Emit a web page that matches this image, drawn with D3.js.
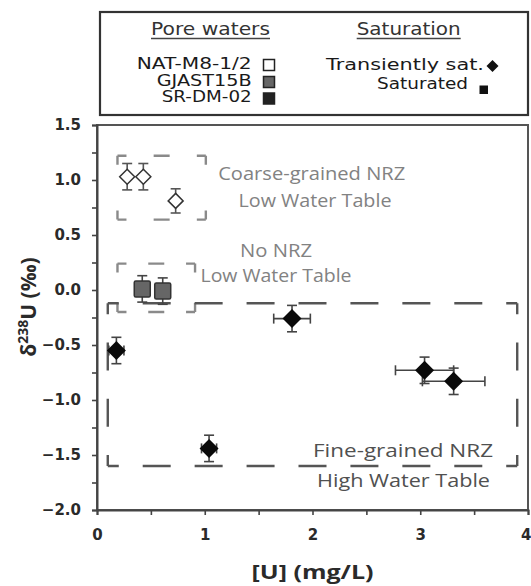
<!DOCTYPE html>
<html>
<head>
<meta charset="utf-8">
<script src="https://cdn.jsdelivr.net/npm/d3@7"></script>
<style>
  body { margin: 0; background: #fff; }
  svg { display: block; }
</style>
</head>
<body>
<div id="chart"></div>
<script>
// pore water samples, [U] in mg/L and d238U in permil
var natX = [0.28, 0.43, 0.73];
var natY = [1.03, 1.03, 0.81];
var natYErr = [0.12, 0.12, 0.11];

var gjastX = [0.42, 0.61];
var gjastY = [0.01, -0.01];
var gjastYErr = [0.12, 0.12];

var srdmX = [0.18, 1.04, 1.81, 3.04, 3.31];
var srdmY = [-0.55, -1.44, -0.26, -0.73, -0.83];
var srdmXErr = [0.07, 0.07, 0.17, 0.27, 0.29];
var srdmYErr = [0.12, 0.12, 0.12, 0.12, 0.12];

// dashed zones [x0, x1, y0, y1]
var zoneCoarse = [0.19, 1.01, 0.64, 1.22];
var zoneNone = [0.19, 0.91, -0.2, 0.24];
var zoneFine = [0.10, 3.90, -1.60, -0.12];

var xTicks = [0, 1, 2, 3, 4];
var yTicks = [-2.0, -1.5, -1.0, -0.5, 0.0, 0.5, 1.0, 1.5];
var poreLabels = ["NAT-M8-1/2", "GJAST15B", "SR-DM-02"];
var satLabels = ["Transiently sat.", "Saturated"];

var width = 531, height = 586;
var margin = {top: 125, right: 3, bottom: 76, left: 97};

var svg = d3.select("#chart").append("svg")
    .attr("width", width)
    .attr("height", height);

var x = d3.scaleLinear().domain([0, 4]).range([margin.left, width - margin.right]);
var y = d3.scaleLinear().domain([-2, 1.5]).range([height - margin.bottom, margin.top]);

var axisColor = "#444";

// ---- legend ----
var lg = svg.append("g").attr("class", "legend");
lg.append("rect")
    .attr("x", 100).attr("y", 12)
    .attr("width", 428).attr("height", 103)
    .attr("fill", "none").attr("stroke", "#333").attr("stroke-width", 2.2);

function heading(txt, cx, len) {
    lg.append("text")
        .attr("x", cx).attr("y", 35)
        .attr("text-anchor", "middle")
        .attr("font-family", "DejaVu Sans")
        .attr("font-size", 17)
        .attr("fill", "#333")
        .attr("textLength", len).attr("lengthAdjust", "spacingAndGlyphs")
        .text(txt);
    lg.append("line")
        .attr("x1", cx - len / 2).attr("x2", cx + len / 2)
        .attr("y1", 38.5).attr("y2", 38.5)
        .attr("stroke", "#444").attr("stroke-width", 1.3);
}
heading("Pore waters", 210.5, 119);
heading("Saturation", 408.7, 104);

var poreFill = ["#fff", "#666", "#222"];
var poreBase = [68.5, 85.5, 102];
var poreLen = [115, 95, 90];
poreLabels.forEach(function (t, i) {
    lg.append("text")
        .attr("x", 251.7).attr("y", poreBase[i])
        .attr("text-anchor", "end")
        .attr("font-family", "DejaVu Sans")
        .attr("font-size", 15.5)
        .attr("fill", "#1a1a1a")
        .attr("textLength", poreLen[i]).attr("lengthAdjust", "spacingAndGlyphs")
        .text(t);
    lg.append("rect")
        .attr("x", 263.5).attr("y", poreBase[i] - 9)
        .attr("width", 11).attr("height", 11)
        .attr("fill", poreFill[i])
        .attr("stroke", "#222").attr("stroke-width", 1.5);
});

var satBase = [70, 88.5];
var satRight = [484, 468];
var satLen = [158, 91];
satLabels.forEach(function (t, i) {
    lg.append("text")
        .attr("x", satRight[i]).attr("y", satBase[i])
        .attr("text-anchor", "end")
        .attr("font-family", "DejaVu Sans")
        .attr("font-size", 15.5)
        .attr("fill", "#1a1a1a")
        .attr("textLength", satLen[i]).attr("lengthAdjust", "spacingAndGlyphs")
        .text(t);
});
lg.append("path")
    .attr("transform", "translate(492.5,66)")
    .attr("d", "M0,-6L6,0L0,6L-6,0Z")
    .attr("fill", "#111");
lg.append("rect")
    .attr("x", 479.5).attr("y", 85.5)
    .attr("width", 8.5).attr("height", 8.5)
    .attr("fill", "#111");

// ---- frame + axes ----
svg.append("rect")
    .attr("x", x(0)).attr("y", y(1.5))
    .attr("width", x(4) - x(0)).attr("height", y(-2) - y(1.5))
    .attr("fill", "none").attr("stroke", "#555").attr("stroke-width", 2);

var yAxis = d3.axisLeft(y)
    .tickValues(d3.range(-2, 1.51, 0.25))
    .tickSize(5)
    .tickPadding(11)
    .tickFormat(function (d) {
        return yTicks.indexOf(d) > -1 ? d3.format(".1f")(d) : "";
    });

var xAxis = d3.axisBottom(x)
    .tickValues(d3.range(0, 4.01, 0.5))
    .tickSize(5)
    .tickPadding(14)
    .tickFormat(function (d) {
        return xTicks.indexOf(d) > -1 ? d : "";
    });

function styleAxis(g) {
    g.select(".domain").attr("stroke", axisColor).attr("stroke-width", 2);
    g.selectAll(".tick line").attr("stroke", axisColor).attr("stroke-width", 1.6);
    g.selectAll(".tick text")
        .attr("font-family", "DejaVu Sans")
        .attr("font-weight", "bold")
        .attr("font-size", 15)
        .attr("fill", "#2a2a2a");
}

svg.append("g")
    .attr("transform", "translate(" + x(0) + ",0)")
    .call(yAxis)
    .call(styleAxis);

var gx = svg.append("g")
    .attr("transform", "translate(0," + y(-2) + ")")
    .call(xAxis)
    .call(styleAxis);
// last label sits on the window edge, keep it inside
gx.selectAll(".tick text")
    .filter(function (d) { return d === 4; })
    .attr("text-anchor", "end")
    .attr("dx", 3);

svg.append("text")
    .attr("x", 312.5).attr("y", 579)
    .attr("text-anchor", "middle")
    .attr("font-family", "Open Sans")
    .attr("font-weight", "bold")
    .attr("font-size", 20)
    .attr("fill", "#2a2a2a")
    .attr("textLength", 122).attr("lengthAdjust", "spacingAndGlyphs")
    .text("[U] (mg/L)");

var yt = svg.append("text")
    .attr("transform", "translate(36,307) rotate(-90)")
    .attr("text-anchor", "middle")
    .attr("font-family", "Open Sans")
    .attr("font-weight", "bold")
    .attr("font-size", 21)
    .attr("fill", "#2a2a2a");
yt.append("tspan").text("δ");
yt.append("tspan").attr("font-size", 14).attr("dy", -8).text("238");
yt.append("tspan").attr("dy", 8).text("U (‰)");

// ---- dashed zones, short L at each corner ----
function dashedSide(g, x1, y1, x2, y2, c, d, gap, col) {
    var L = Math.hypot(x2 - x1, y2 - y1);
    var m = Math.max(0, Math.floor((L - 2 * c - gap) / (d + gap)));
    var g2 = (L - 2 * c - m * d) / (m + 1);
    var arr = [c];
    for (var k = 0; k < m; k++) arr.push(g2, d);
    arr.push(g2, c);
    g.append("line")
        .attr("x1", x1).attr("y1", y1).attr("x2", x2).attr("y2", y2)
        .attr("stroke", col).attr("stroke-width", 2.4)
        .attr("stroke-dasharray", arr.join(","));
}
function zone(z, c, d, gap, col) {
    var g = svg.append("g");
    var x0 = x(z[0]), x1 = x(z[1]), yTop = y(z[3]), yBot = y(z[2]);
    dashedSide(g, x0, yTop, x1, yTop, c, d, gap, col);
    dashedSide(g, x0, yBot, x1, yBot, c, d, gap, col);
    dashedSide(g, x0, yTop, x0, yBot, c, d, gap, col);
    dashedSide(g, x1, yTop, x1, yBot, c, d, gap, col);
}
zone(zoneCoarse, 9, 16, 18, "#8a8a8a");
zone(zoneNone, 9, 16, 18, "#8a8a8a");
zone(zoneFine, 11, 28, 22, "#555");

// zone labels
function label(txt, cx, by, len, col, size) {
    svg.append("text")
        .attr("x", cx).attr("y", by)
        .attr("text-anchor", "middle")
        .attr("font-family", "Open Sans")
        .attr("font-size", size)
        .attr("fill", col)
        .attr("textLength", len).attr("lengthAdjust", "spacingAndGlyphs")
        .text(txt);
}
label("Coarse-grained NRZ", 311.7, 180, 187, "#828282", 18);
label("Low Water Table", 315, 206.7, 153, "#828282", 18);
label("No NRZ", 276, 257, 72, "#828282", 18);
label("Low Water Table", 276, 282, 151, "#828282", 18);
label("Fine-grained NRZ", 403, 457, 180, "#505050", 19);
label("High Water Table", 403.5, 486.5, 173, "#505050", 19);

// ---- error bars + markers ----
var errCol = "#444";
function errBars(xs, ys, xe, ye, col) {
    var g = svg.append("g");
    xs.forEach(function (xv, i) {
        var cx = x(xv), cy = y(ys[i]);
        if (ye && ye[i]) {
            var t = y(ys[i] + ye[i]), b = y(ys[i] - ye[i]);
            g.append("line").attr("x1", cx).attr("x2", cx).attr("y1", t).attr("y2", b);
            g.append("line").attr("x1", cx - 5).attr("x2", cx + 5).attr("y1", t).attr("y2", t);
            g.append("line").attr("x1", cx - 5).attr("x2", cx + 5).attr("y1", b).attr("y2", b);
        }
        if (xe && xe[i]) {
            var l = x(xv - xe[i]), r = x(xv + xe[i]);
            g.append("line").attr("x1", l).attr("x2", r).attr("y1", cy).attr("y2", cy);
            g.append("line").attr("x1", l).attr("x2", l).attr("y1", cy - 5).attr("y2", cy + 5);
            g.append("line").attr("x1", r).attr("x2", r).attr("y1", cy - 5).attr("y2", cy + 5);
        }
    });
    g.selectAll("line").attr("stroke", col).attr("stroke-width", 1.6);
}

errBars(natX, natY, null, natYErr, "#555");
errBars(gjastX, gjastY, null, gjastYErr, errCol);
errBars(srdmX, srdmY, srdmXErr, srdmYErr, errCol);

var diamond = function (r) { return "M0," + (-r) + "L" + r + ",0L0," + r + "L" + (-r) + ",0Z"; };

svg.append("g").selectAll("path")
    .data(natX.map(function (d, i) { return [d, natY[i]]; }))
    .enter().append("path")
    .attr("transform", function (d) { return "translate(" + x(d[0]) + "," + y(d[1]) + ")"; })
    .attr("d", diamond(7.5))
    .attr("fill", "#fff")
    .attr("stroke", "#333")
    .attr("stroke-width", 1.5);

svg.append("g").selectAll("rect")
    .data(gjastX.map(function (d, i) { return [d, gjastY[i]]; }))
    .enter().append("rect")
    .attr("x", function (d) { return x(d[0]) - 8; })
    .attr("y", function (d) { return y(d[1]) - 8; })
    .attr("width", 16).attr("height", 16)
    .attr("rx", 1.5)
    .attr("fill", "#666")
    .attr("stroke", "#333")
    .attr("stroke-width", 1.5);

svg.append("g").selectAll("path")
    .data(srdmX.map(function (d, i) { return [d, srdmY[i]]; }))
    .enter().append("path")
    .attr("transform", function (d) { return "translate(" + x(d[0]) + "," + y(d[1]) + ")"; })
    .attr("d", diamond(9.5))
    .attr("fill", "#0a0a0a");
</script>
</body>
</html>
